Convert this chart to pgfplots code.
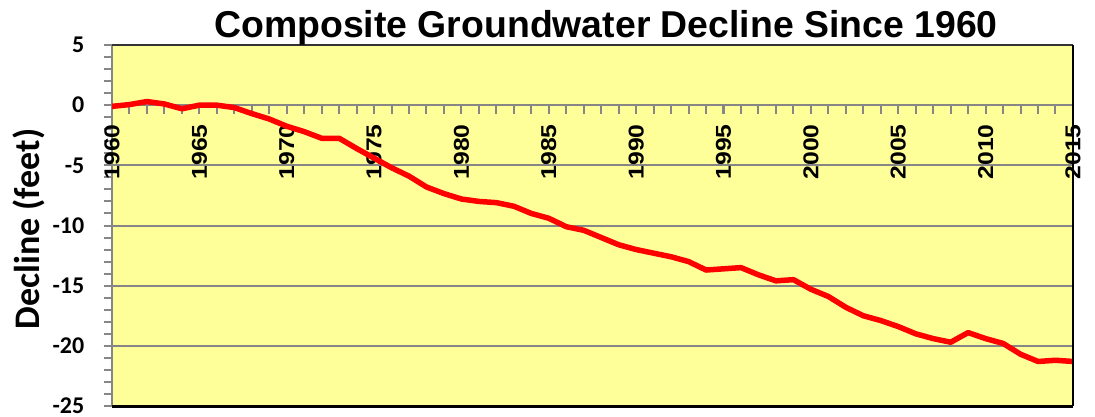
\documentclass[border=0pt]{standalone}
\usepackage{pgfplots}
\pgfplotsset{compat=1.18}
\usepackage{fontspec}
\setmainfont{Liberation Sans}
\newfontfamily\calfont{Carlito}
\definecolor{bgyellow}{RGB}{255,255,153}
\definecolor{axgray}{RGB}{134,134,134}
\begin{document}
\begin{tikzpicture}
\begin{axis}[
  at={(112pt,10pt)}, anchor=south west,
  scale only axis, width=961pt, height=361pt,
  xmin=1960, xmax=2015, ymin=-25, ymax=5,
  axis x line*=middle, axis y line*=left,
  hide obscured x ticks=false, hide obscured y ticks=false,
  axis background/.style={fill=bgyellow},
  axis line style={axgray, line width=2pt},
  xtick={1960,1965,...,2015},
  xticklabels={1960,1965,1970,1975,1980,1985,1990,1995,2000,2005,2010,2015},
  minor xtick={1960,...,2015},
  ytick={-25,-20,...,5},
  yticklabels={-25,-20,-15,-10,-5,0,5},
  minor ytick={-25,...,5},
  tick align=outside,
  major tick length=8.5pt, minor tick length=8.5pt,
  every tick/.style={axgray, line width=2pt},
  ymajorgrids,
  major grid style={axgray, line width=2pt},
  xticklabel style={rotate=90, xscale=1.15, anchor=east, inner sep=0pt, xshift=-9pt, font=\fontsize{21.5}{24}\selectfont\bfseries},
  yticklabel style={anchor=east, inner sep=0pt, xshift=-19pt, font=\calfont\fontsize{24}{26}\selectfont\bfseries},
  clip=false,
]
\addplot[red, line width=5.5pt, line join=round] coordinates {
(1960,-0.1) (1961,0.05) (1962,0.3) (1963,0.1) (1964,-0.3) (1965,0.0)
(1966,0.0) (1967,-0.2) (1968,-0.7) (1969,-1.15) (1970,-1.75) (1971,-2.2)
(1972,-2.75) (1973,-2.75) (1974,-3.6) (1975,-4.4) (1976,-5.2) (1977,-5.9)
(1978,-6.8) (1979,-7.35) (1980,-7.8) (1981,-8.0) (1982,-8.1) (1983,-8.4)
(1984,-9.0) (1985,-9.4) (1986,-10.1) (1987,-10.4) (1988,-11.0) (1989,-11.6)
(1990,-12.0) (1991,-12.3) (1992,-12.6) (1993,-13.0) (1994,-13.7) (1995,-13.6)
(1996,-13.5) (1997,-14.1) (1998,-14.6) (1999,-14.5) (2000,-15.3) (2001,-15.9)
(2002,-16.8) (2003,-17.5) (2004,-17.9) (2005,-18.4) (2006,-19.0) (2007,-19.4)
(2008,-19.7) (2009,-18.9) (2010,-19.4) (2011,-19.8) (2012,-20.7) (2013,-21.3)
(2014,-21.2) (2015,-21.3)
};
\draw[black!80, line width=1.5pt] (rel axis cs:0,1) -- (rel axis cs:1,1);
\draw[black, line width=2pt] (rel axis cs:1,1) -- (rel axis cs:1,0);
\draw[black, line width=3pt] (rel axis cs:0,0) -- (rel axis cs:1,0);
\end{axis}
\node[anchor=base, font=\fontsize{37.4}{40}\selectfont\bfseries] at (606pt,378.5pt) {Composite Groundwater Decline Since 1960};
\node[rotate=90, font=\calfont\fontsize{36}{40}\selectfont\bfseries] at (28.7pt,187pt) {Decline (feet)};
\pgfresetboundingbox
\path[use as bounding box] (0,0) rectangle (1095pt,416pt);
\end{tikzpicture}
\end{document}
